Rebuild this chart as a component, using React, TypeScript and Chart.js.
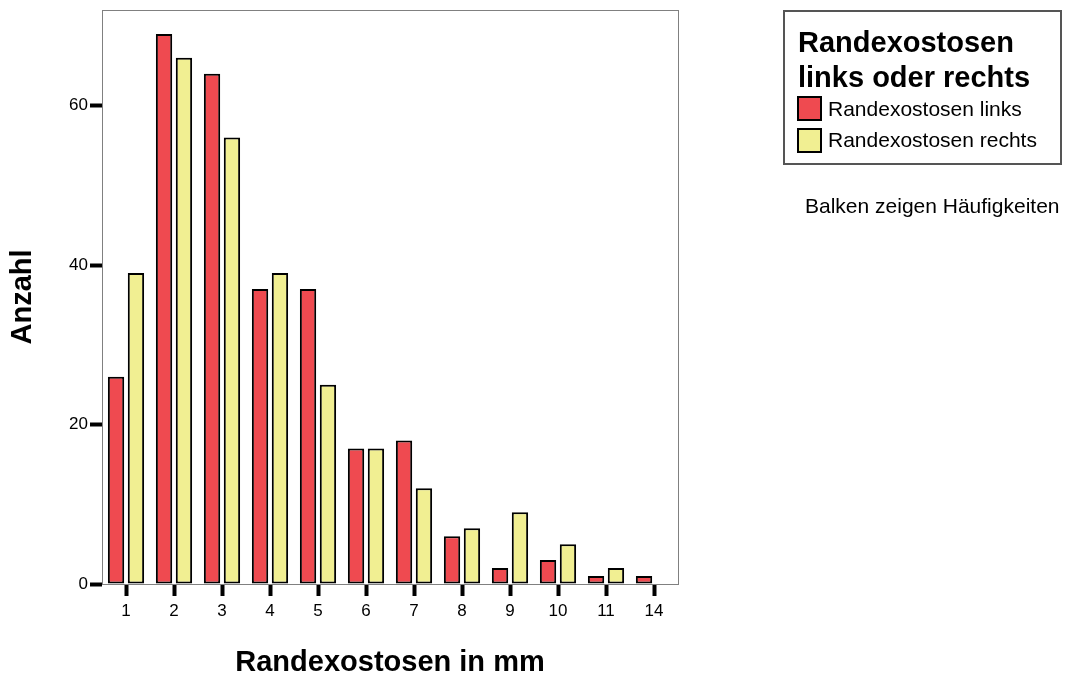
import React, { useEffect, useRef } from "react";
import { Chart, registerables } from "chart.js";

Chart.register(...registerables);

const categories = ["1", "2", "3", "4", "5", "6", "7", "8", "9", "10", "11", "14"];
const linksValues = [26, 69, 64, 37, 37, 17, 18, 6, 2, 3, 1, 1];
const rechtsValues = [39, 66, 56, 39, 25, 17, 12, 7, 9, 5, 2, 0];
const yTickValues = [0, 20, 40, 60];
const yMax = 72;

const seriesLabels = ["Randexostosen links", "Randexostosen rechts"];
const legendTitle = ["Randexostosen", "links oder rechts"];
const xTitle = "Randexostosen in mm";
const yTitle = "Anzahl";
const note = "Balken zeigen Häufigkeiten";

const RED = "#EF4A50";
const YELLOW = "#F1EF92";
const FONT = "'Liberation Sans', Arial, sans-serif";

const frameBorder = {
  id: "frameBorder",
  afterDatasetsDraw(chart: any) {
    const { ctx, chartArea } = chart;
    ctx.save();
    ctx.strokeStyle = "#808080";
    ctx.lineWidth = 1;
    ctx.strokeRect(
      Math.round(chartArea.left) + 0.5,
      Math.round(chartArea.top) + 0.5,
      Math.round(chartArea.right - chartArea.left),
      Math.round(chartArea.bottom - chartArea.top)
    );
    ctx.restore();
  },
};

export default function App() {
  const canvasRef = useRef<HTMLCanvasElement | null>(null);

  useEffect(() => {
    if (!canvasRef.current) return;
    const chart = new Chart(canvasRef.current, {
      type: "bar",
      data: {
        labels: categories,
        datasets: [
          {
            label: seriesLabels[0],
            data: linksValues,
            backgroundColor: RED,
            borderColor: "#000",
            borderWidth: 2,
            borderSkipped: false,
            categoryPercentage: 0.83,
            barPercentage: 0.82,
          },
          {
            label: seriesLabels[1],
            data: rechtsValues,
            backgroundColor: YELLOW,
            borderColor: "#000",
            borderWidth: 2,
            borderSkipped: false,
            categoryPercentage: 0.83,
            barPercentage: 0.82,
          },
        ],
      },
      options: {
        responsive: false,
        animation: false,
        layout: { padding: { left: 0, right: 387, top: 10, bottom: 0 } },
        plugins: {
          legend: { display: false },
          tooltip: { enabled: false },
        },
        scales: {
          x: {
            grid: {
              offset: false,
              drawOnChartArea: false,
              drawTicks: true,
              tickLength: 12,
              tickWidth: 4,
              tickColor: "#000",
            },
            border: { display: true, color: "#808080", width: 1 },
            ticks: {
              color: "#000",
              font: { family: FONT, size: 17 },
              padding: 5,
              maxRotation: 0,
              autoSkip: false,
            },
            title: {
              display: true,
              text: xTitle,
              color: "#000",
              font: { family: FONT, size: 29, weight: "bold", lineHeight: 0.72 },
              padding: 0,
            },
            afterFit(scale: any) {
              scale.height = 89;
              scale.paddingLeft = 0;
              scale.paddingRight = 0;
            },
          },
          y: {
            min: 0,
            max: yMax,
            afterBuildTicks(scale: any) {
              scale.ticks = yTickValues.map((v) => ({ value: v }));
            },
            grid: {
              drawOnChartArea: false,
              drawTicks: true,
              tickLength: 12,
              tickWidth: 4,
              tickColor: "#000",
            },
            border: { display: true, color: "#808080", width: 1 },
            ticks: {
              color: "#000",
              font: { family: FONT, size: 17 },
              padding: 2,
            },
            title: {
              display: true,
              text: yTitle,
              color: "#000",
              font: { family: FONT, size: 29, weight: "bold", lineHeight: 1 },
              padding: { top: 8.5, bottom: 0 },
            },
            afterFit(scale: any) {
              scale.width = 102;
              scale.paddingTop = 0;
              scale.paddingBottom = 0;
            },
          },
        },
      },
      plugins: [frameBorder],
    });
    return () => chart.destroy();
  }, []);

  const txt = (fs: number, bold = false): React.CSSProperties => ({
    position: "absolute",
    fontFamily: FONT,
    fontSize: fs,
    lineHeight: `${fs}px`,
    fontWeight: bold ? "bold" : "normal",
    color: "#000",
    whiteSpace: "nowrap",
    margin: 0,
  });

  return (
    <div style={{ position: "absolute", left: 0, top: 0, width: 1065, height: 673, background: "#fff", overflow: "hidden" }}>
      <canvas ref={canvasRef} width={1065} height={673} style={{ position: "absolute", left: 0, top: 0 }} />
      <div
        style={{
          position: "absolute",
          left: 783,
          top: 10,
          width: 275,
          height: 151,
          border: "2px solid #555",
          boxSizing: "content-box",
        }}
      />
      <div style={{ ...txt(29, true), left: 798, top: 27.5 }}>{legendTitle[0]}</div>
      <div style={{ ...txt(29, true), left: 798, top: 62.5 }}>{legendTitle[1]}</div>
      <div style={{ position: "absolute", left: 797, top: 96, width: 21, height: 21, background: RED, border: "2px solid #000" }} />
      <div style={{ ...txt(21), left: 828, top: 98.2 }}>{seriesLabels[0]}</div>
      <div style={{ position: "absolute", left: 797, top: 128, width: 21, height: 21, background: YELLOW, border: "2px solid #000" }} />
      <div style={{ ...txt(21), left: 828, top: 129.2 }}>{seriesLabels[1]}</div>
      <div style={{ ...txt(21), left: 805, top: 195.2 }}>{note}</div>
    </div>
  );
}
